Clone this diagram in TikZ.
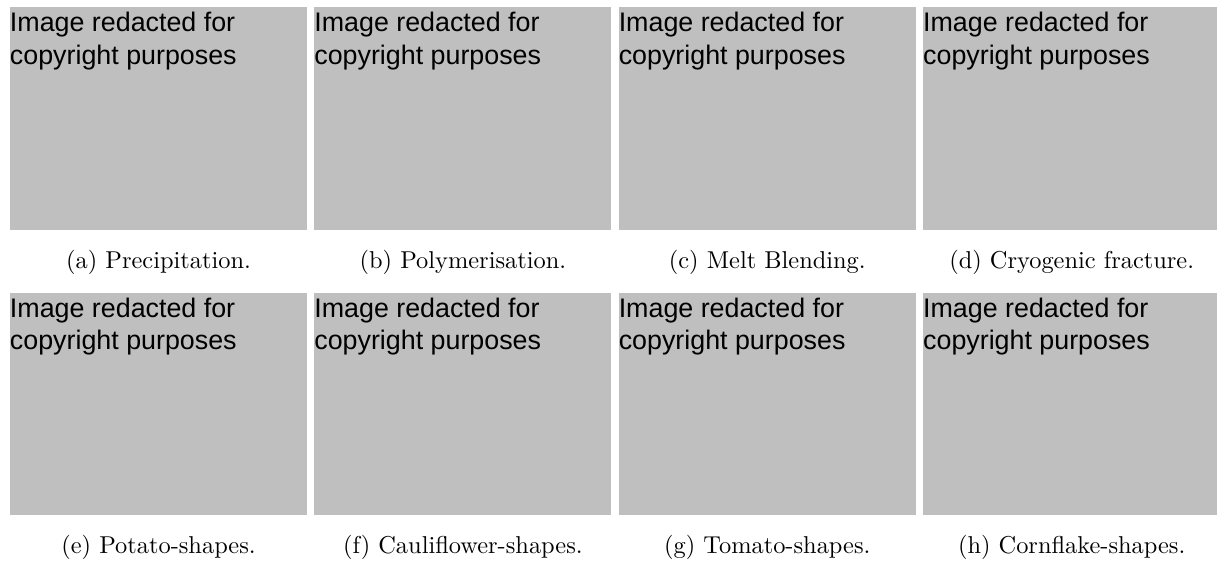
\documentclass[tikz,border=0pt]{standalone}
\usepackage{fontspec}
\newfontfamily\redactfont{Liberation Sans}
\usepackage{xcolor}
\definecolor{redactgray}{RGB}{191,191,191}
\usetikzlibrary{positioning}

\begin{document}
\begin{tikzpicture}[
  photo/.style={fill=redactgray, minimum width=4.28cm, minimum height=3.21cm, inner sep=0pt},
  redact/.style={anchor=north west, inner sep=0pt, align=left, font=\redactfont\fontsize{11}{13.5}\selectfont},
  subcap/.style={font=\normalsize}
]
  \useasboundingbox (0,0) rectangle (17.536,8.083);
  %% Top row
  \node[photo] (imgA) at (2.284,6.376) {};
  \node[photo] (imgB) at (6.670,6.376) {};
  \node[photo] (imgC) at (11.056,6.376) {};
  \node[photo] (imgD) at (15.442,6.376) {};
  \node[redact] (redA) at ([yshift=-0.072cm]imgA.north west) {Image redacted for\\copyright purposes};
  \node[redact] (redB) at ([yshift=-0.072cm]imgB.north west) {Image redacted for\\copyright purposes};
  \node[redact] (redC) at ([yshift=-0.072cm]imgC.north west) {Image redacted for\\copyright purposes};
  \node[redact] (redD) at ([yshift=-0.072cm]imgD.north west) {Image redacted for\\copyright purposes};
  \node[subcap, below=0.16cm of imgA] (capA) {(a) Precipitation.};
  \node[subcap, below=0.16cm of imgB] (capB) {(b) Polymerisation.};
  \node[subcap, below=0.16cm of imgC] (capC) {(c) Melt Blending.};
  \node[subcap, below=0.16cm of imgD] (capD) {(d) Cryogenic fracture.};
  %% Bottom row
  \node[photo] (imgE) at (2.284,2.262) {};
  \node[photo] (imgF) at (6.670,2.262) {};
  \node[photo] (imgG) at (11.056,2.262) {};
  \node[photo] (imgH) at (15.442,2.262) {};
  \node[redact] (redE) at ([yshift=-0.072cm]imgE.north west) {Image redacted for\\copyright purposes};
  \node[redact] (redF) at ([yshift=-0.072cm]imgF.north west) {Image redacted for\\copyright purposes};
  \node[redact] (redG) at ([yshift=-0.072cm]imgG.north west) {Image redacted for\\copyright purposes};
  \node[redact] (redH) at ([yshift=-0.072cm]imgH.north west) {Image redacted for\\copyright purposes};
  \node[subcap, below=0.16cm of imgE] (capE) {(e) Potato-shapes.};
  \node[subcap, below=0.16cm of imgF] (capF) {(f) Cauliflower-shapes.};
  \node[subcap, below=0.16cm of imgG] (capG) {(g) Tomato-shapes.};
  \node[subcap, below=0.16cm of imgH] (capH) {(h) Cornflake-shapes.};
\end{tikzpicture}
\end{document}
